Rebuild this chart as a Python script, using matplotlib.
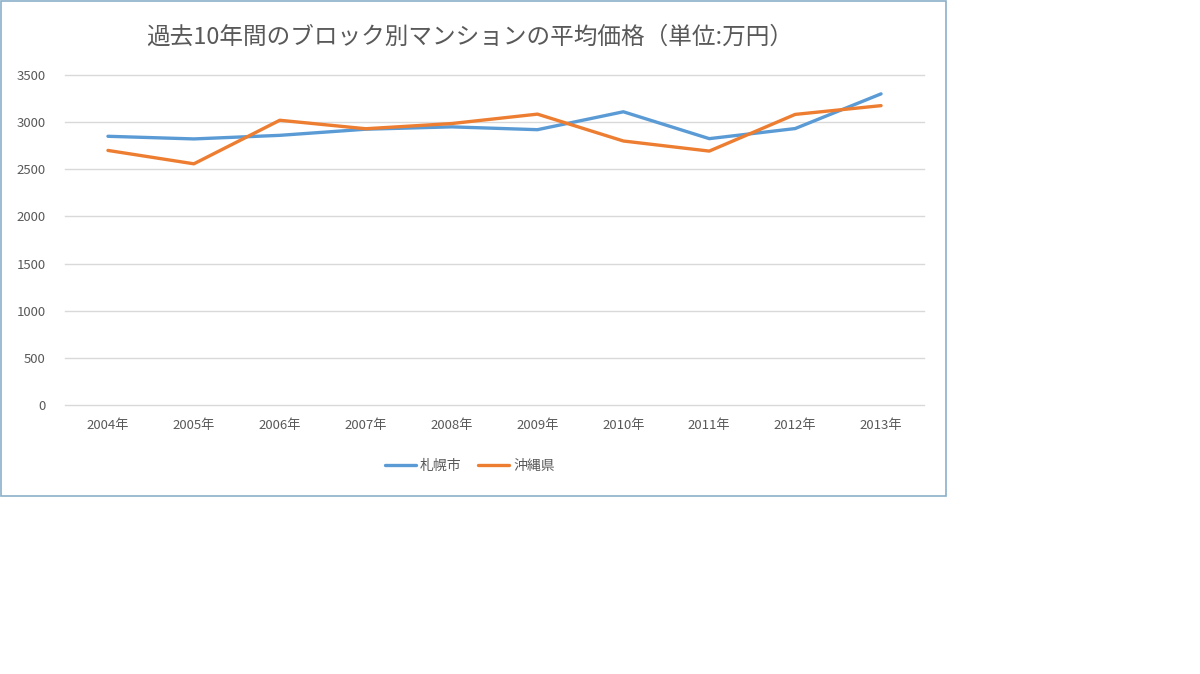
import matplotlib
matplotlib.use('Agg')
import matplotlib.pyplot as plt
from matplotlib.patches import Rectangle

plt.rcParams['font.family'] = ['Noto Sans CJK JP', 'DejaVu Sans']

# data
years = ['2004年', '2005年', '2006年', '2007年', '2008年',
         '2009年', '2010年', '2011年', '2012年', '2013年']
sapporo = [2850, 2822, 2860, 2925, 2950, 2920, 3110, 2825, 2932, 3300]
okinawa = [2700, 2558, 3020, 2930, 2985, 3085, 2800, 2693, 3082, 3175]
yticks = [0, 500, 1000, 1500, 2000, 2500, 3000, 3500]

W, H = 1200, 674
fig = plt.figure(figsize=(W / 100, H / 100), dpi=100)
fig.patch.set_facecolor('white')

# chart frame (only the top-left part of the image holds the chart)
fig.patches.append(Rectangle((1 / W, 1 - 496 / H), 945 / W, 495 / H,
                             transform=fig.transFigure, fill=False,
                             edgecolor='#8BAFC9', linewidth=1.2))

ax = fig.add_axes([65 / W, 1 - 405 / H, (924 - 65) / W, (405 - 75) / H])
x = range(len(years))
ax.plot(x, sapporo, color='#5B9BD5', linewidth=2.4, label='札幌市',
        solid_capstyle='round')
ax.plot(x, okinawa, color='#ED7D31', linewidth=2.4, label='沖縄県',
        solid_capstyle='round')

ax.set_xlim(-0.5, len(years) - 0.5)
ax.set_ylim(0, 3500)
ax.set_yticks(yticks)
ax.set_xticks(list(x))
ax.set_xticklabels(years)
ax.grid(axis='y', color='#D9D9D9', linewidth=1)
for gl in ax.get_ygridlines():
    gl.set_clip_on(False)
ax.set_axisbelow(True)
for s in ax.spines.values():
    s.set_visible(False)
ax.tick_params(length=0, labelsize=9.5, labelcolor='#595959')
ax.tick_params(axis='y', pad=14)
ax.tick_params(axis='x', pad=10)

fig.text(470 / W, 1 - 37 / H, '過去10年間のブロック別マンションの平均価格（単位:万円）',
         ha='center', va='center', fontsize=17, color='#595959')

ax.legend(loc='center', bbox_to_anchor=(470 / W, 1 - 466 / H),
          bbox_transform=fig.transFigure, ncol=2, frameon=False,
          fontsize=10, labelcolor='#595959', handlelength=2.2,
          columnspacing=1.2, handletextpad=0.3)

fig.savefig('out.png', dpi=100)
